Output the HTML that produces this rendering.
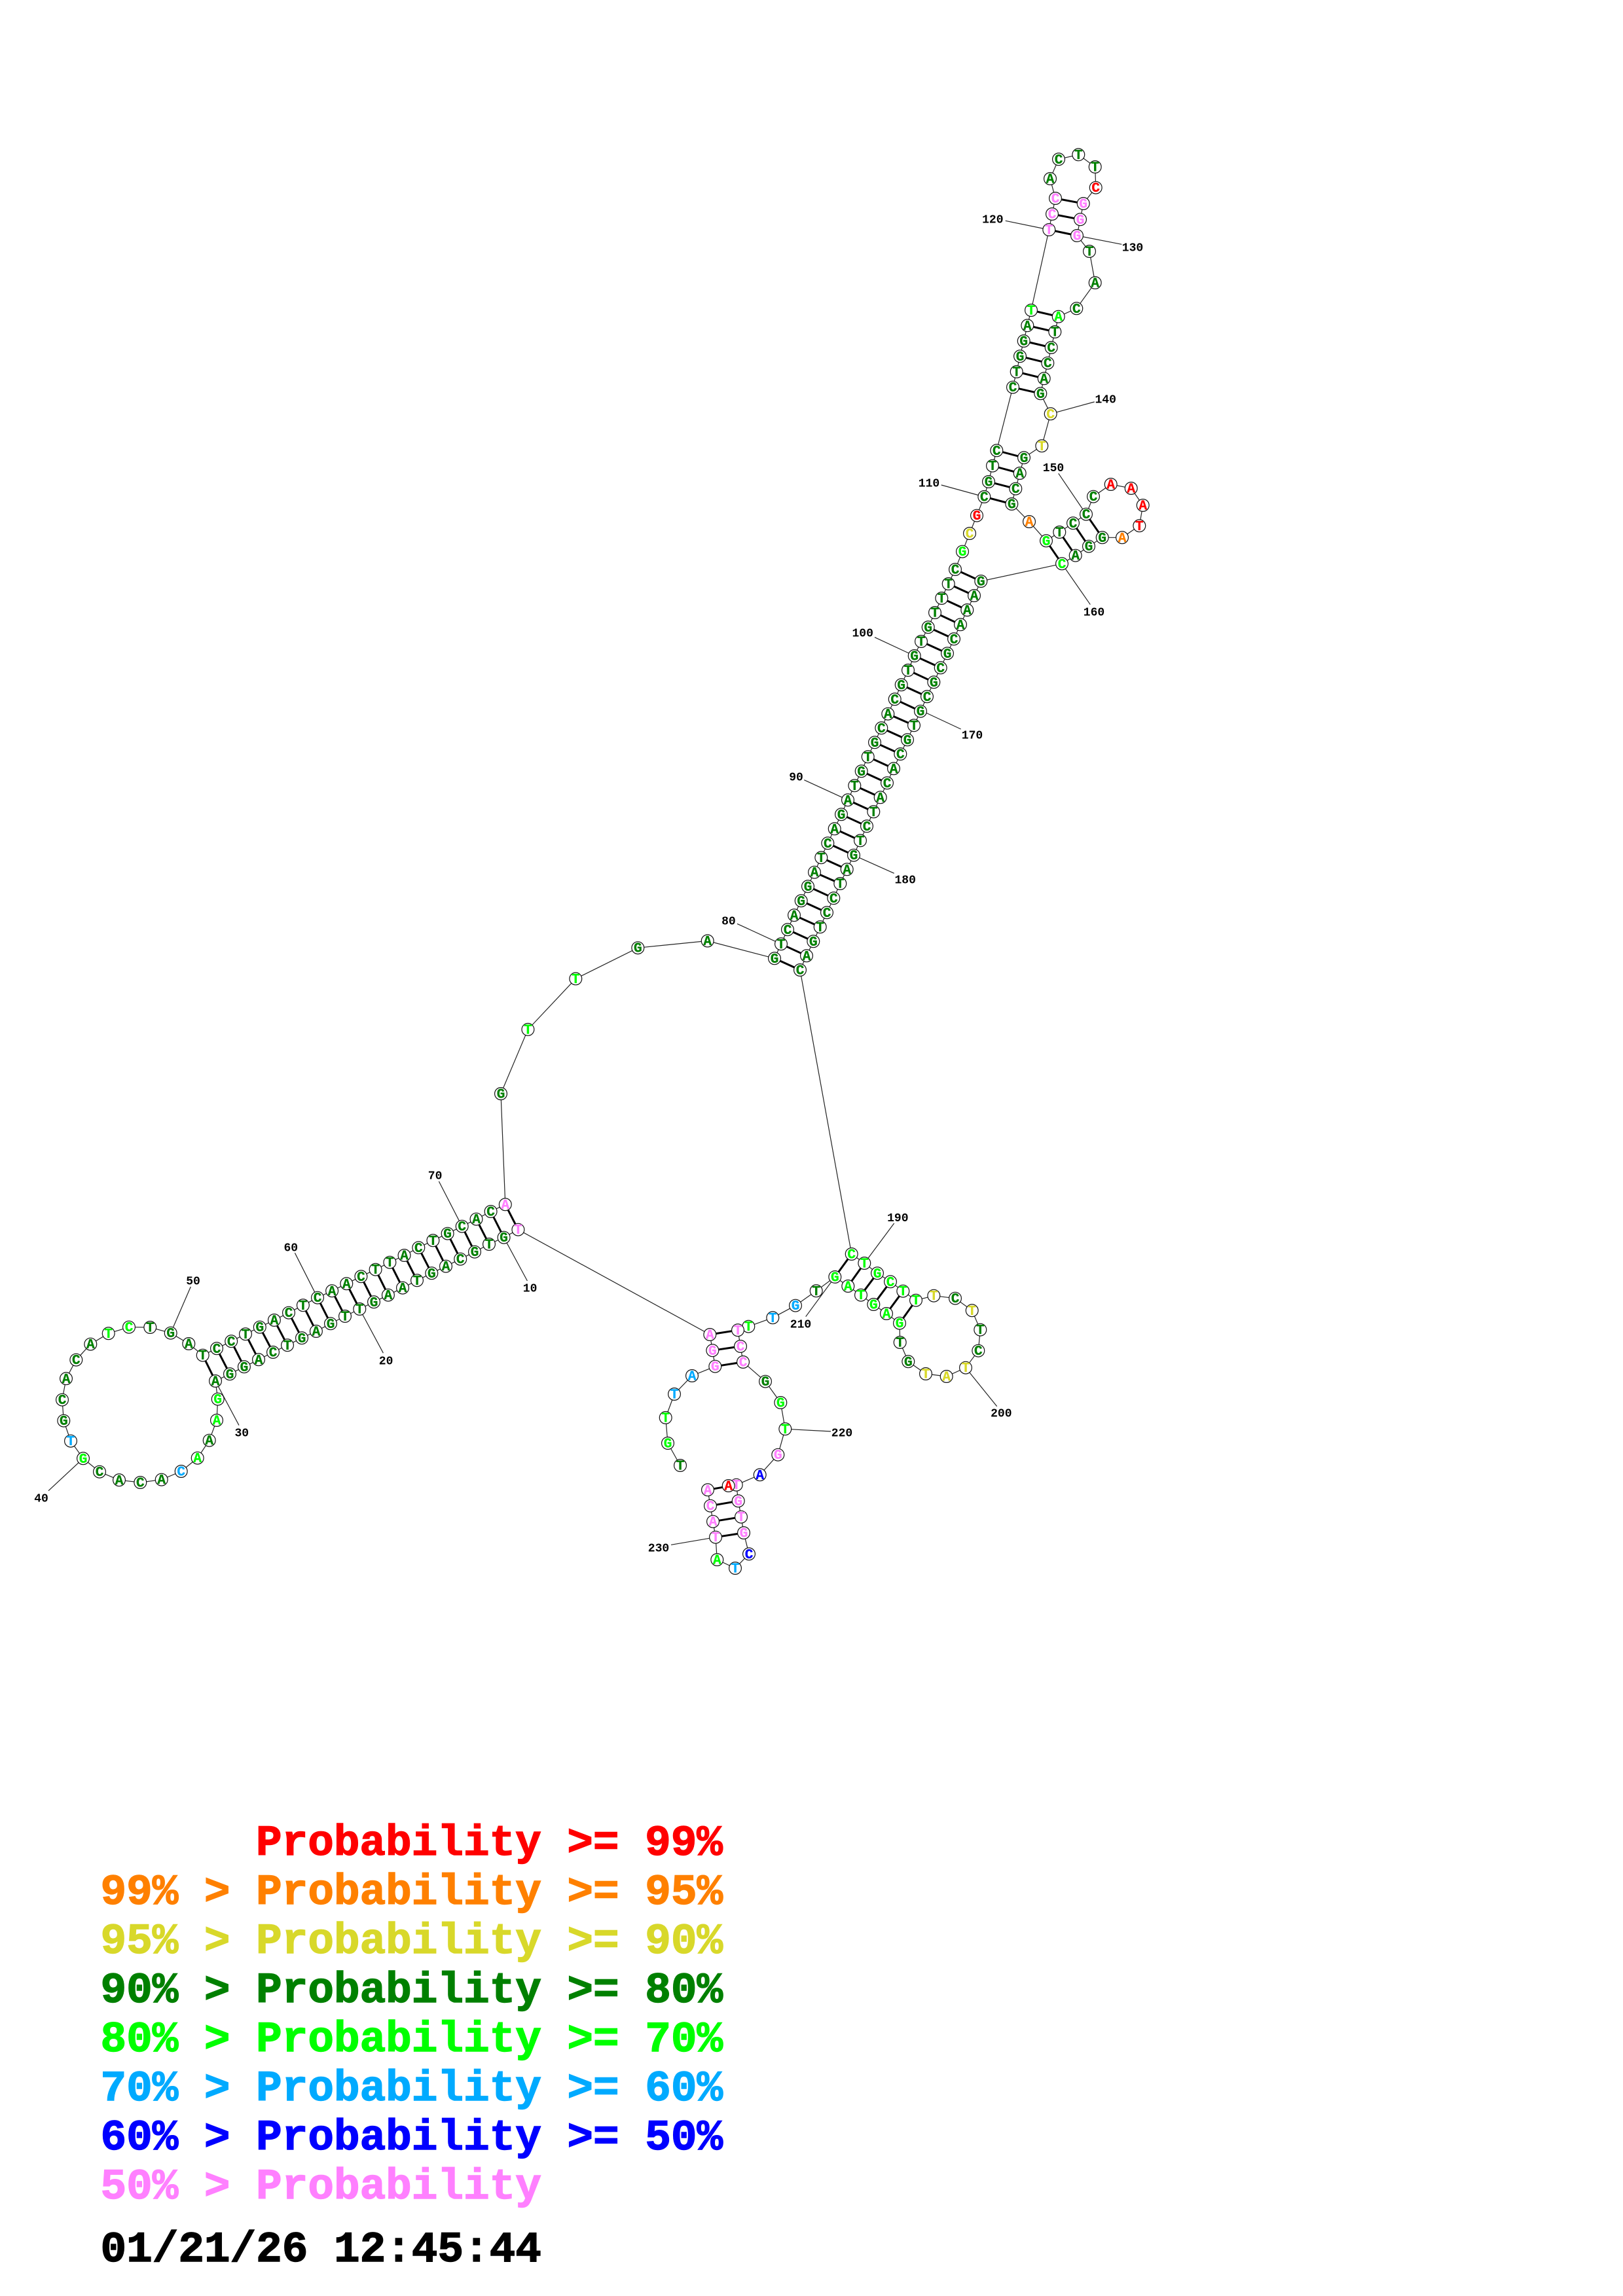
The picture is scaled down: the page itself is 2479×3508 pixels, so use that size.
<!DOCTYPE html>
<html><head><meta charset="utf-8"><title>RNA structure</title>
<style>
html,body{margin:0;padding:0;background:#fff}
svg{display:block}
circle{fill:#fff;stroke:#111;stroke-width:1.2}
text{font-family:"Liberation Mono",monospace;font-weight:bold}
.g text{font-size:21px;text-anchor:middle;stroke-width:.35px;transform:translateY(.5px)}
.d{fill:#008000;stroke:#008000}.l{fill:#00ff00;stroke:#00ff00}.s{fill:#00aaff;stroke:#00aaff}.y{fill:#d8d82a;stroke:#d8d82a}.r{fill:#ff0000;stroke:#ff0000}.o{fill:#ff8000;stroke:#ff8000}.b{fill:#0000ff;stroke:#0000ff}.p{fill:#ff80ff;stroke:#ff80ff}
text.n{font-size:18px;text-anchor:middle;fill:#000}
.L text{font-size:66px;stroke-width:1.4px}
</style></head><body>
<svg xmlns="http://www.w3.org/2000/svg" width="2479" height="3508" viewBox="0 0 2479 3508">
<rect width="2479" height="3508" fill="#fff"/>
<path fill="none" stroke="#222" stroke-width="1.2" d="M1535.7 337.3L1602.3 351M1645 360L1713.3 373.3M1604.7 632.3L1671.7 614M1437.7 741L1503.3 759M1616.7 723.3L1659 785.7M1622 861.3L1665.3 923.7M1405.7 1085L1467.7 1114M1304 1306.7L1365.7 1334.3M1228.3 1191.7L1295 1222.3M1126 1411.4L1193 1442.3M1336 973.7L1396.7 1002M670.4 1805L705.7 1873.7M450.4 1914.3L485 1982.7M549.3 2000L585.4 2067.3M769.6 1890.7L805.4 1957M260.7 2036.7L291.3 1966M329 2110L365 2177.7M127 2228.3L74 2277.7M1320.3 1930L1365.7 1869M1475 2089.7L1522.7 2148.7M1275.3 1951L1230.7 2011.7M1199.3 2183.3L1269 2187M1093 2348.7L1025 2360.3"/>
<polyline fill="none" stroke="#222" stroke-width="1.2" points="1039,2239 1020,2205 1016.7,2166 1030,2130 1057,2102 1092.3,2087.7 1088.3,2063.3 1084.3,2039 791.4,1878.7 769.6,1890.7 747,1901 725,1912.7 703.2,1923.7 681,1934.7 659.3,1945.3 637,1956.3 615,1967.7 592.9,1978.7 571,1989.3 549.3,2000 527,2011 505,2022.3 482.9,2034 461,2044.3 439,2055.3 417,2066 395,2077.3 372.9,2088.3 351,2099.3 329,2110 332.7,2137.7 331,2170 319.7,2200.7 301.7,2227.7 276.7,2248 246.7,2260.7 214.3,2265 182,2261.3 152,2248.7 127,2228.3 108,2201.7 97.3,2170.7 95,2138.7 101,2106.3 116.3,2077.7 138.3,2053.7 165.7,2037.3 197,2027.7 229.3,2028 260.7,2036.7 288.3,2053 309.7,2070.7 331,2060.3 353.2,2049.3 375,2038.3 396.8,2027.7 418.9,2017 441,2005.7 462.9,1994.3 485,1982.7 507.1,1972.3 529.3,1961.3 551.4,1950.3 573.6,1939.7 595.4,1928.7 617.5,1918 639.3,1906.3 661.4,1895.3 683.6,1884.7 705.7,1873.7 727.5,1862.7 749.6,1851 771.8,1840.3 765,1671 806.4,1572.9 879.3,1495.4 974.3,1448.2 1080.7,1437.5 1183,1464.3 1193,1442.3 1203,1420.3 1213,1398.3 1223.7,1376.3 1234,1354.3 1244,1332.7 1254.3,1310.3 1264.3,1288.3 1274.7,1266.3 1285,1244.3 1295,1222.3 1305.3,1200.3 1315.7,1178.3 1325.7,1156.3 1336,1134.3 1346.3,1112.3 1356.3,1090.7 1366.7,1068.3 1376.7,1046.3 1387,1024 1396.7,1002 1407,980 1417.7,958.3 1428,936 1438.3,914 1448.7,892 1459,870 1470,842.7 1481,815 1492,787.7 1503.3,759 1510,736 1516,711.7 1522.3,688.3 1547,591.7 1552.7,568 1558,544.3 1563.7,521 1569.3,497.3 1575,474 1602.3,351 1607,327 1612,303 1604,273 1617,243.3 1647.3,236.3 1672.7,255 1673.7,286.7 1654.7,311 1650,335.3 1645,360 1664,384 1672.7,432 1644.3,471.3 1616.7,483.7 1611.3,507 1605.7,531 1600.3,554.7 1594.7,578.3 1589.3,601.3 1604.7,632.3 1591.3,681.3 1564,699.3 1557.7,723 1551.3,746.7 1545.3,770 1572,797 1598,826.3 1618.3,813 1639,799.3 1659,785.7 1670,758.7 1696.7,740 1727.7,746 1745.7,772 1740.3,803.3 1714,821.3 1683.7,821.3 1663,834.7 1642.7,848.7 1622,861.3 1498.3,888 1488,910 1477.3,932 1467,954.3 1457,976.3 1447,998.3 1436.7,1020.3 1426.3,1042.3 1416,1064.3 1406,1086.7 1396,1108.3 1386,1130.3 1375.3,1152 1365,1174.3 1355,1196.3 1344.7,1218.3 1334.3,1240.3 1324,1262.3 1314,1284.3 1304,1306.7 1293.7,1328.3 1283.3,1350 1273.3,1372.3 1263,1394.3 1252.7,1416.3 1242.3,1438.3 1232,1460.3 1222,1482 1300.7,1916 1320.3,1930 1340,1945.3 1360,1958.3 1379.3,1972.7 1399,1986.7 1426.3,1979.7 1459,1983.7 1484.7,2002.3 1497.3,2031.7 1494.3,2063.7 1475,2089.7 1445.7,2103 1414,2099 1387.3,2080.3 1374.7,2051 1374,2021.7 1354,2007 1334.3,1993 1315,1978.7 1295.3,1965 1275.3,1951 1246.7,1972.3 1215,1994.7 1180.3,2013.3 1143.3,2026.7 1127,2032.3 1131,2057 1135,2081 1169,2110.7 1192.3,2143 1199.3,2183.3 1188.3,2222.7 1160.7,2253.3 1124.7,2268.7 1127.7,2293.3 1132,2317.7 1136,2342 1144,2374.3 1123,2396 1095.3,2383 1093,2348.7 1089,2324.7 1085,2300.7 1081,2276.3 1112.7,2270"/>
<path fill="none" stroke="#000" stroke-width="3" d="M1084.3 2039L1127 2032.3M1088.3 2063.3L1131 2057M1092.3 2087.7L1135 2081M791.4 1878.7L771.8 1840.3M769.6 1890.7L749.6 1851M747 1901L727.5 1862.7M725 1912.7L705.7 1873.7M703.2 1923.7L683.6 1884.7M681 1934.7L661.4 1895.3M659.3 1945.3L639.3 1906.3M637 1956.3L617.5 1918M615 1967.7L595.4 1928.7M592.9 1978.7L573.6 1939.7M571 1989.3L551.4 1950.3M549.3 2000L529.3 1961.3M527 2011L507.1 1972.3M505 2022.3L485 1982.7M482.9 2034L462.9 1994.3M461 2044.3L441 2005.7M439 2055.3L418.9 2017M417 2066L396.8 2027.7M395 2077.3L375 2038.3M372.9 2088.3L353.2 2049.3M351 2099.3L331 2060.3M329 2110L309.7 2070.7M1183 1464.3L1222 1482M1193 1442.3L1232 1460.3M1203 1420.3L1242.3 1438.3M1213 1398.3L1252.7 1416.3M1223.7 1376.3L1263 1394.3M1234 1354.3L1273.3 1372.3M1244 1332.7L1283.3 1350M1254.3 1310.3L1293.7 1328.3M1264.3 1288.3L1304 1306.7M1274.7 1266.3L1314 1284.3M1285 1244.3L1324 1262.3M1295 1222.3L1334.3 1240.3M1305.3 1200.3L1344.7 1218.3M1315.7 1178.3L1355 1196.3M1325.7 1156.3L1365 1174.3M1336 1134.3L1375.3 1152M1346.3 1112.3L1386 1130.3M1356.3 1090.7L1396 1108.3M1366.7 1068.3L1406 1086.7M1376.7 1046.3L1416 1064.3M1387 1024L1426.3 1042.3M1396.7 1002L1436.7 1020.3M1407 980L1447 998.3M1417.7 958.3L1457 976.3M1428 936L1467 954.3M1438.3 914L1477.3 932M1448.7 892L1488 910M1459 870L1498.3 888M1503.3 759L1545.3 770M1510 736L1551.3 746.7M1516 711.7L1557.7 723M1522.3 688.3L1564 699.3M1547 591.7L1589.3 601.3M1552.7 568L1594.7 578.3M1558 544.3L1600.3 554.7M1563.7 521L1605.7 531M1569.3 497.3L1611.3 507M1575 474L1616.7 483.7M1602.3 351L1645 360M1607 327L1650 335.3M1612 303L1654.7 311M1598 826.3L1622 861.3M1618.3 813L1642.7 848.7M1639 799.3L1663 834.7M1659 785.7L1683.7 821.3M1300.7 1916L1275.3 1951M1320.3 1930L1295.3 1965M1340 1945.3L1315 1978.7M1360 1958.3L1334.3 1993M1379.3 1972.7L1354 2007M1399 1986.7L1374 2021.7M1124.7 2268.7L1081 2276.3M1127.7 2293.3L1085 2300.7M1132 2317.7L1089 2324.7M1136 2342L1093 2348.7"/>
<g class="g">
<circle cx="1039" cy="2239" r="9.4"/><text x="1039" y="2245" class="d">T</text>
<circle cx="1020" cy="2205" r="9.4"/><text x="1020" y="2211" class="l">G</text>
<circle cx="1016.7" cy="2166" r="9.4"/><text x="1016.7" y="2172" class="l">T</text>
<circle cx="1030" cy="2130" r="9.4"/><text x="1030" y="2136" class="s">T</text>
<circle cx="1057" cy="2102" r="9.4"/><text x="1057" y="2108" class="s">A</text>
<circle cx="1092.3" cy="2087.7" r="9.4"/><text x="1092.3" y="2093.7" class="p">G</text>
<circle cx="1088.3" cy="2063.3" r="9.4"/><text x="1088.3" y="2069.3" class="p">G</text>
<circle cx="1084.3" cy="2039" r="9.4"/><text x="1084.3" y="2045" class="p">A</text>
<circle cx="791.4" cy="1878.7" r="9.4"/><text x="791.4" y="1884.7" class="p">T</text>
<circle cx="769.6" cy="1890.7" r="9.4"/><text x="769.6" y="1896.7" class="d">G</text>
<circle cx="747" cy="1901" r="9.4"/><text x="747" y="1907" class="d">T</text>
<circle cx="725" cy="1912.7" r="9.4"/><text x="725" y="1918.7" class="d">G</text>
<circle cx="703.2" cy="1923.7" r="9.4"/><text x="703.2" y="1929.7" class="d">C</text>
<circle cx="681" cy="1934.7" r="9.4"/><text x="681" y="1940.7" class="d">A</text>
<circle cx="659.3" cy="1945.3" r="9.4"/><text x="659.3" y="1951.3" class="d">G</text>
<circle cx="637" cy="1956.3" r="9.4"/><text x="637" y="1962.3" class="d">T</text>
<circle cx="615" cy="1967.7" r="9.4"/><text x="615" y="1973.7" class="d">A</text>
<circle cx="592.9" cy="1978.7" r="9.4"/><text x="592.9" y="1984.7" class="d">A</text>
<circle cx="571" cy="1989.3" r="9.4"/><text x="571" y="1995.3" class="d">G</text>
<circle cx="549.3" cy="2000" r="9.4"/><text x="549.3" y="2006" class="d">T</text>
<circle cx="527" cy="2011" r="9.4"/><text x="527" y="2017" class="d">T</text>
<circle cx="505" cy="2022.3" r="9.4"/><text x="505" y="2028.3" class="d">G</text>
<circle cx="482.9" cy="2034" r="9.4"/><text x="482.9" y="2040" class="d">A</text>
<circle cx="461" cy="2044.3" r="9.4"/><text x="461" y="2050.3" class="d">G</text>
<circle cx="439" cy="2055.3" r="9.4"/><text x="439" y="2061.3" class="d">T</text>
<circle cx="417" cy="2066" r="9.4"/><text x="417" y="2072" class="d">C</text>
<circle cx="395" cy="2077.3" r="9.4"/><text x="395" y="2083.3" class="d">A</text>
<circle cx="372.9" cy="2088.3" r="9.4"/><text x="372.9" y="2094.3" class="d">G</text>
<circle cx="351" cy="2099.3" r="9.4"/><text x="351" y="2105.3" class="d">G</text>
<circle cx="329" cy="2110" r="9.4"/><text x="329" y="2116" class="d">A</text>
<circle cx="332.7" cy="2137.7" r="9.4"/><text x="332.7" y="2143.7" class="l">G</text>
<circle cx="331" cy="2170" r="9.4"/><text x="331" y="2176" class="l">A</text>
<circle cx="319.7" cy="2200.7" r="9.4"/><text x="319.7" y="2206.7" class="d">A</text>
<circle cx="301.7" cy="2227.7" r="9.4"/><text x="301.7" y="2233.7" class="l">A</text>
<circle cx="276.7" cy="2248" r="9.4"/><text x="276.7" y="2254" class="s">C</text>
<circle cx="246.7" cy="2260.7" r="9.4"/><text x="246.7" y="2266.7" class="d">A</text>
<circle cx="214.3" cy="2265" r="9.4"/><text x="214.3" y="2271" class="d">C</text>
<circle cx="182" cy="2261.3" r="9.4"/><text x="182" y="2267.3" class="d">A</text>
<circle cx="152" cy="2248.7" r="9.4"/><text x="152" y="2254.7" class="d">C</text>
<circle cx="127" cy="2228.3" r="9.4"/><text x="127" y="2234.3" class="l">G</text>
<circle cx="108" cy="2201.7" r="9.4"/><text x="108" y="2207.7" class="s">T</text>
<circle cx="97.3" cy="2170.7" r="9.4"/><text x="97.3" y="2176.7" class="d">G</text>
<circle cx="95" cy="2138.7" r="9.4"/><text x="95" y="2144.7" class="d">C</text>
<circle cx="101" cy="2106.3" r="9.4"/><text x="101" y="2112.3" class="d">A</text>
<circle cx="116.3" cy="2077.7" r="9.4"/><text x="116.3" y="2083.7" class="d">C</text>
<circle cx="138.3" cy="2053.7" r="9.4"/><text x="138.3" y="2059.7" class="d">A</text>
<circle cx="165.7" cy="2037.3" r="9.4"/><text x="165.7" y="2043.3" class="l">T</text>
<circle cx="197" cy="2027.7" r="9.4"/><text x="197" y="2033.7" class="l">C</text>
<circle cx="229.3" cy="2028" r="9.4"/><text x="229.3" y="2034" class="d">T</text>
<circle cx="260.7" cy="2036.7" r="9.4"/><text x="260.7" y="2042.7" class="d">G</text>
<circle cx="288.3" cy="2053" r="9.4"/><text x="288.3" y="2059" class="d">A</text>
<circle cx="309.7" cy="2070.7" r="9.4"/><text x="309.7" y="2076.7" class="d">T</text>
<circle cx="331" cy="2060.3" r="9.4"/><text x="331" y="2066.3" class="d">C</text>
<circle cx="353.2" cy="2049.3" r="9.4"/><text x="353.2" y="2055.3" class="d">C</text>
<circle cx="375" cy="2038.3" r="9.4"/><text x="375" y="2044.3" class="d">T</text>
<circle cx="396.8" cy="2027.7" r="9.4"/><text x="396.8" y="2033.7" class="d">G</text>
<circle cx="418.9" cy="2017" r="9.4"/><text x="418.9" y="2023" class="d">A</text>
<circle cx="441" cy="2005.7" r="9.4"/><text x="441" y="2011.7" class="d">C</text>
<circle cx="462.9" cy="1994.3" r="9.4"/><text x="462.9" y="2000.3" class="d">T</text>
<circle cx="485" cy="1982.7" r="9.4"/><text x="485" y="1988.7" class="d">C</text>
<circle cx="507.1" cy="1972.3" r="9.4"/><text x="507.1" y="1978.3" class="d">A</text>
<circle cx="529.3" cy="1961.3" r="9.4"/><text x="529.3" y="1967.3" class="d">A</text>
<circle cx="551.4" cy="1950.3" r="9.4"/><text x="551.4" y="1956.3" class="d">C</text>
<circle cx="573.6" cy="1939.7" r="9.4"/><text x="573.6" y="1945.7" class="d">T</text>
<circle cx="595.4" cy="1928.7" r="9.4"/><text x="595.4" y="1934.7" class="d">T</text>
<circle cx="617.5" cy="1918" r="9.4"/><text x="617.5" y="1924" class="d">A</text>
<circle cx="639.3" cy="1906.3" r="9.4"/><text x="639.3" y="1912.3" class="d">C</text>
<circle cx="661.4" cy="1895.3" r="9.4"/><text x="661.4" y="1901.3" class="d">T</text>
<circle cx="683.6" cy="1884.7" r="9.4"/><text x="683.6" y="1890.7" class="d">G</text>
<circle cx="705.7" cy="1873.7" r="9.4"/><text x="705.7" y="1879.7" class="d">C</text>
<circle cx="727.5" cy="1862.7" r="9.4"/><text x="727.5" y="1868.7" class="d">A</text>
<circle cx="749.6" cy="1851" r="9.4"/><text x="749.6" y="1857" class="d">C</text>
<circle cx="771.8" cy="1840.3" r="9.4"/><text x="771.8" y="1846.3" class="p">A</text>
<circle cx="765" cy="1671" r="9.4"/><text x="765" y="1677" class="d">G</text>
<circle cx="806.4" cy="1572.9" r="9.4"/><text x="806.4" y="1578.9" class="l">T</text>
<circle cx="879.3" cy="1495.4" r="9.4"/><text x="879.3" y="1501.4" class="l">T</text>
<circle cx="974.3" cy="1448.2" r="9.4"/><text x="974.3" y="1454.2" class="d">G</text>
<circle cx="1080.7" cy="1437.5" r="9.4"/><text x="1080.7" y="1443.5" class="d">A</text>
<circle cx="1183" cy="1464.3" r="9.4"/><text x="1183" y="1470.3" class="d">G</text>
<circle cx="1193" cy="1442.3" r="9.4"/><text x="1193" y="1448.3" class="d">T</text>
<circle cx="1203" cy="1420.3" r="9.4"/><text x="1203" y="1426.3" class="d">C</text>
<circle cx="1213" cy="1398.3" r="9.4"/><text x="1213" y="1404.3" class="d">A</text>
<circle cx="1223.7" cy="1376.3" r="9.4"/><text x="1223.7" y="1382.3" class="d">G</text>
<circle cx="1234" cy="1354.3" r="9.4"/><text x="1234" y="1360.3" class="d">G</text>
<circle cx="1244" cy="1332.7" r="9.4"/><text x="1244" y="1338.7" class="d">A</text>
<circle cx="1254.3" cy="1310.3" r="9.4"/><text x="1254.3" y="1316.3" class="d">T</text>
<circle cx="1264.3" cy="1288.3" r="9.4"/><text x="1264.3" y="1294.3" class="d">C</text>
<circle cx="1274.7" cy="1266.3" r="9.4"/><text x="1274.7" y="1272.3" class="d">A</text>
<circle cx="1285" cy="1244.3" r="9.4"/><text x="1285" y="1250.3" class="d">G</text>
<circle cx="1295" cy="1222.3" r="9.4"/><text x="1295" y="1228.3" class="d">A</text>
<circle cx="1305.3" cy="1200.3" r="9.4"/><text x="1305.3" y="1206.3" class="d">T</text>
<circle cx="1315.7" cy="1178.3" r="9.4"/><text x="1315.7" y="1184.3" class="d">G</text>
<circle cx="1325.7" cy="1156.3" r="9.4"/><text x="1325.7" y="1162.3" class="d">T</text>
<circle cx="1336" cy="1134.3" r="9.4"/><text x="1336" y="1140.3" class="d">G</text>
<circle cx="1346.3" cy="1112.3" r="9.4"/><text x="1346.3" y="1118.3" class="d">C</text>
<circle cx="1356.3" cy="1090.7" r="9.4"/><text x="1356.3" y="1096.7" class="d">A</text>
<circle cx="1366.7" cy="1068.3" r="9.4"/><text x="1366.7" y="1074.3" class="d">C</text>
<circle cx="1376.7" cy="1046.3" r="9.4"/><text x="1376.7" y="1052.3" class="d">G</text>
<circle cx="1387" cy="1024" r="9.4"/><text x="1387" y="1030" class="d">T</text>
<circle cx="1396.7" cy="1002" r="9.4"/><text x="1396.7" y="1008" class="d">G</text>
<circle cx="1407" cy="980" r="9.4"/><text x="1407" y="986" class="d">T</text>
<circle cx="1417.7" cy="958.3" r="9.4"/><text x="1417.7" y="964.3" class="d">G</text>
<circle cx="1428" cy="936" r="9.4"/><text x="1428" y="942" class="d">T</text>
<circle cx="1438.3" cy="914" r="9.4"/><text x="1438.3" y="920" class="d">T</text>
<circle cx="1448.7" cy="892" r="9.4"/><text x="1448.7" y="898" class="d">T</text>
<circle cx="1459" cy="870" r="9.4"/><text x="1459" y="876" class="d">C</text>
<circle cx="1470" cy="842.7" r="9.4"/><text x="1470" y="848.7" class="l">G</text>
<circle cx="1481" cy="815" r="9.4"/><text x="1481" y="821" class="y">C</text>
<circle cx="1492" cy="787.7" r="9.4"/><text x="1492" y="793.7" class="r">G</text>
<circle cx="1503.3" cy="759" r="9.4"/><text x="1503.3" y="765" class="d">C</text>
<circle cx="1510" cy="736" r="9.4"/><text x="1510" y="742" class="d">G</text>
<circle cx="1516" cy="711.7" r="9.4"/><text x="1516" y="717.7" class="d">T</text>
<circle cx="1522.3" cy="688.3" r="9.4"/><text x="1522.3" y="694.3" class="d">C</text>
<circle cx="1547" cy="591.7" r="9.4"/><text x="1547" y="597.7" class="d">C</text>
<circle cx="1552.7" cy="568" r="9.4"/><text x="1552.7" y="574" class="d">T</text>
<circle cx="1558" cy="544.3" r="9.4"/><text x="1558" y="550.3" class="d">G</text>
<circle cx="1563.7" cy="521" r="9.4"/><text x="1563.7" y="527" class="d">G</text>
<circle cx="1569.3" cy="497.3" r="9.4"/><text x="1569.3" y="503.3" class="d">A</text>
<circle cx="1575" cy="474" r="9.4"/><text x="1575" y="480" class="l">T</text>
<circle cx="1602.3" cy="351" r="9.4"/><text x="1602.3" y="357" class="p">T</text>
<circle cx="1607" cy="327" r="9.4"/><text x="1607" y="333" class="p">C</text>
<circle cx="1612" cy="303" r="9.4"/><text x="1612" y="309" class="p">C</text>
<circle cx="1604" cy="273" r="9.4"/><text x="1604" y="279" class="d">A</text>
<circle cx="1617" cy="243.3" r="9.4"/><text x="1617" y="249.3" class="d">C</text>
<circle cx="1647.3" cy="236.3" r="9.4"/><text x="1647.3" y="242.3" class="d">T</text>
<circle cx="1672.7" cy="255" r="9.4"/><text x="1672.7" y="261" class="d">T</text>
<circle cx="1673.7" cy="286.7" r="9.4"/><text x="1673.7" y="292.7" class="r">C</text>
<circle cx="1654.7" cy="311" r="9.4"/><text x="1654.7" y="317" class="p">G</text>
<circle cx="1650" cy="335.3" r="9.4"/><text x="1650" y="341.3" class="p">G</text>
<circle cx="1645" cy="360" r="9.4"/><text x="1645" y="366" class="p">G</text>
<circle cx="1664" cy="384" r="9.4"/><text x="1664" y="390" class="d">T</text>
<circle cx="1672.7" cy="432" r="9.4"/><text x="1672.7" y="438" class="d">A</text>
<circle cx="1644.3" cy="471.3" r="9.4"/><text x="1644.3" y="477.3" class="d">C</text>
<circle cx="1616.7" cy="483.7" r="9.4"/><text x="1616.7" y="489.7" class="l">A</text>
<circle cx="1611.3" cy="507" r="9.4"/><text x="1611.3" y="513" class="d">T</text>
<circle cx="1605.7" cy="531" r="9.4"/><text x="1605.7" y="537" class="d">C</text>
<circle cx="1600.3" cy="554.7" r="9.4"/><text x="1600.3" y="560.7" class="d">C</text>
<circle cx="1594.7" cy="578.3" r="9.4"/><text x="1594.7" y="584.3" class="d">A</text>
<circle cx="1589.3" cy="601.3" r="9.4"/><text x="1589.3" y="607.3" class="d">G</text>
<circle cx="1604.7" cy="632.3" r="9.4"/><text x="1604.7" y="638.3" class="y">C</text>
<circle cx="1591.3" cy="681.3" r="9.4"/><text x="1591.3" y="687.3" class="y">T</text>
<circle cx="1564" cy="699.3" r="9.4"/><text x="1564" y="705.3" class="d">G</text>
<circle cx="1557.7" cy="723" r="9.4"/><text x="1557.7" y="729" class="d">A</text>
<circle cx="1551.3" cy="746.7" r="9.4"/><text x="1551.3" y="752.7" class="d">C</text>
<circle cx="1545.3" cy="770" r="9.4"/><text x="1545.3" y="776" class="d">G</text>
<circle cx="1572" cy="797" r="9.4"/><text x="1572" y="803" class="o">A</text>
<circle cx="1598" cy="826.3" r="9.4"/><text x="1598" y="832.3" class="l">G</text>
<circle cx="1618.3" cy="813" r="9.4"/><text x="1618.3" y="819" class="d">T</text>
<circle cx="1639" cy="799.3" r="9.4"/><text x="1639" y="805.3" class="d">C</text>
<circle cx="1659" cy="785.7" r="9.4"/><text x="1659" y="791.7" class="d">C</text>
<circle cx="1670" cy="758.7" r="9.4"/><text x="1670" y="764.7" class="d">C</text>
<circle cx="1696.7" cy="740" r="9.4"/><text x="1696.7" y="746" class="r">A</text>
<circle cx="1727.7" cy="746" r="9.4"/><text x="1727.7" y="752" class="r">A</text>
<circle cx="1745.7" cy="772" r="9.4"/><text x="1745.7" y="778" class="r">A</text>
<circle cx="1740.3" cy="803.3" r="9.4"/><text x="1740.3" y="809.3" class="r">T</text>
<circle cx="1714" cy="821.3" r="9.4"/><text x="1714" y="827.3" class="o">A</text>
<circle cx="1683.7" cy="821.3" r="9.4"/><text x="1683.7" y="827.3" class="d">G</text>
<circle cx="1663" cy="834.7" r="9.4"/><text x="1663" y="840.7" class="d">G</text>
<circle cx="1642.7" cy="848.7" r="9.4"/><text x="1642.7" y="854.7" class="d">A</text>
<circle cx="1622" cy="861.3" r="9.4"/><text x="1622" y="867.3" class="l">C</text>
<circle cx="1498.3" cy="888" r="9.4"/><text x="1498.3" y="894" class="d">G</text>
<circle cx="1488" cy="910" r="9.4"/><text x="1488" y="916" class="d">A</text>
<circle cx="1477.3" cy="932" r="9.4"/><text x="1477.3" y="938" class="d">A</text>
<circle cx="1467" cy="954.3" r="9.4"/><text x="1467" y="960.3" class="d">A</text>
<circle cx="1457" cy="976.3" r="9.4"/><text x="1457" y="982.3" class="d">C</text>
<circle cx="1447" cy="998.3" r="9.4"/><text x="1447" y="1004.3" class="d">G</text>
<circle cx="1436.7" cy="1020.3" r="9.4"/><text x="1436.7" y="1026.3" class="d">C</text>
<circle cx="1426.3" cy="1042.3" r="9.4"/><text x="1426.3" y="1048.3" class="d">G</text>
<circle cx="1416" cy="1064.3" r="9.4"/><text x="1416" y="1070.3" class="d">C</text>
<circle cx="1406" cy="1086.7" r="9.4"/><text x="1406" y="1092.7" class="d">G</text>
<circle cx="1396" cy="1108.3" r="9.4"/><text x="1396" y="1114.3" class="d">T</text>
<circle cx="1386" cy="1130.3" r="9.4"/><text x="1386" y="1136.3" class="d">G</text>
<circle cx="1375.3" cy="1152" r="9.4"/><text x="1375.3" y="1158" class="d">C</text>
<circle cx="1365" cy="1174.3" r="9.4"/><text x="1365" y="1180.3" class="d">A</text>
<circle cx="1355" cy="1196.3" r="9.4"/><text x="1355" y="1202.3" class="d">C</text>
<circle cx="1344.7" cy="1218.3" r="9.4"/><text x="1344.7" y="1224.3" class="d">A</text>
<circle cx="1334.3" cy="1240.3" r="9.4"/><text x="1334.3" y="1246.3" class="d">T</text>
<circle cx="1324" cy="1262.3" r="9.4"/><text x="1324" y="1268.3" class="d">C</text>
<circle cx="1314" cy="1284.3" r="9.4"/><text x="1314" y="1290.3" class="d">T</text>
<circle cx="1304" cy="1306.7" r="9.4"/><text x="1304" y="1312.7" class="d">G</text>
<circle cx="1293.7" cy="1328.3" r="9.4"/><text x="1293.7" y="1334.3" class="d">A</text>
<circle cx="1283.3" cy="1350" r="9.4"/><text x="1283.3" y="1356" class="d">T</text>
<circle cx="1273.3" cy="1372.3" r="9.4"/><text x="1273.3" y="1378.3" class="d">C</text>
<circle cx="1263" cy="1394.3" r="9.4"/><text x="1263" y="1400.3" class="d">C</text>
<circle cx="1252.7" cy="1416.3" r="9.4"/><text x="1252.7" y="1422.3" class="d">T</text>
<circle cx="1242.3" cy="1438.3" r="9.4"/><text x="1242.3" y="1444.3" class="d">G</text>
<circle cx="1232" cy="1460.3" r="9.4"/><text x="1232" y="1466.3" class="d">A</text>
<circle cx="1222" cy="1482" r="9.4"/><text x="1222" y="1488" class="d">C</text>
<circle cx="1300.7" cy="1916" r="9.4"/><text x="1300.7" y="1922" class="l">C</text>
<circle cx="1320.3" cy="1930" r="9.4"/><text x="1320.3" y="1936" class="l">T</text>
<circle cx="1340" cy="1945.3" r="9.4"/><text x="1340" y="1951.3" class="l">G</text>
<circle cx="1360" cy="1958.3" r="9.4"/><text x="1360" y="1964.3" class="l">C</text>
<circle cx="1379.3" cy="1972.7" r="9.4"/><text x="1379.3" y="1978.7" class="l">T</text>
<circle cx="1399" cy="1986.7" r="9.4"/><text x="1399" y="1992.7" class="l">T</text>
<circle cx="1426.3" cy="1979.7" r="9.4"/><text x="1426.3" y="1985.7" class="y">T</text>
<circle cx="1459" cy="1983.7" r="9.4"/><text x="1459" y="1989.7" class="d">C</text>
<circle cx="1484.7" cy="2002.3" r="9.4"/><text x="1484.7" y="2008.3" class="y">T</text>
<circle cx="1497.3" cy="2031.7" r="9.4"/><text x="1497.3" y="2037.7" class="d">T</text>
<circle cx="1494.3" cy="2063.7" r="9.4"/><text x="1494.3" y="2069.7" class="d">C</text>
<circle cx="1475" cy="2089.7" r="9.4"/><text x="1475" y="2095.7" class="y">T</text>
<circle cx="1445.7" cy="2103" r="9.4"/><text x="1445.7" y="2109" class="y">A</text>
<circle cx="1414" cy="2099" r="9.4"/><text x="1414" y="2105" class="y">T</text>
<circle cx="1387.3" cy="2080.3" r="9.4"/><text x="1387.3" y="2086.3" class="d">G</text>
<circle cx="1374.7" cy="2051" r="9.4"/><text x="1374.7" y="2057" class="d">T</text>
<circle cx="1374" cy="2021.7" r="9.4"/><text x="1374" y="2027.7" class="l">G</text>
<circle cx="1354" cy="2007" r="9.4"/><text x="1354" y="2013" class="l">A</text>
<circle cx="1334.3" cy="1993" r="9.4"/><text x="1334.3" y="1999" class="l">G</text>
<circle cx="1315" cy="1978.7" r="9.4"/><text x="1315" y="1984.7" class="l">T</text>
<circle cx="1295.3" cy="1965" r="9.4"/><text x="1295.3" y="1971" class="l">A</text>
<circle cx="1275.3" cy="1951" r="9.4"/><text x="1275.3" y="1957" class="l">G</text>
<circle cx="1246.7" cy="1972.3" r="9.4"/><text x="1246.7" y="1978.3" class="d">T</text>
<circle cx="1215" cy="1994.7" r="9.4"/><text x="1215" y="2000.7" class="s">G</text>
<circle cx="1180.3" cy="2013.3" r="9.4"/><text x="1180.3" y="2019.3" class="s">T</text>
<circle cx="1143.3" cy="2026.7" r="9.4"/><text x="1143.3" y="2032.7" class="l">T</text>
<circle cx="1127" cy="2032.3" r="9.4"/><text x="1127" y="2038.3" class="p">T</text>
<circle cx="1131" cy="2057" r="9.4"/><text x="1131" y="2063" class="p">C</text>
<circle cx="1135" cy="2081" r="9.4"/><text x="1135" y="2087" class="p">C</text>
<circle cx="1169" cy="2110.7" r="9.4"/><text x="1169" y="2116.7" class="d">G</text>
<circle cx="1192.3" cy="2143" r="9.4"/><text x="1192.3" y="2149" class="l">G</text>
<circle cx="1199.3" cy="2183.3" r="9.4"/><text x="1199.3" y="2189.3" class="l">T</text>
<circle cx="1188.3" cy="2222.7" r="9.4"/><text x="1188.3" y="2228.7" class="p">G</text>
<circle cx="1160.7" cy="2253.3" r="9.4"/><text x="1160.7" y="2259.3" class="b">A</text>
<circle cx="1124.7" cy="2268.7" r="9.4"/><text x="1124.7" y="2274.7" class="p">T</text>
<circle cx="1127.7" cy="2293.3" r="9.4"/><text x="1127.7" y="2299.3" class="p">G</text>
<circle cx="1132" cy="2317.7" r="9.4"/><text x="1132" y="2323.7" class="p">T</text>
<circle cx="1136" cy="2342" r="9.4"/><text x="1136" y="2348" class="p">G</text>
<circle cx="1144" cy="2374.3" r="9.4"/><text x="1144" y="2380.3" class="b">C</text>
<circle cx="1123" cy="2396" r="9.4"/><text x="1123" y="2402" class="s">T</text>
<circle cx="1095.3" cy="2383" r="9.4"/><text x="1095.3" y="2389" class="l">A</text>
<circle cx="1093" cy="2348.7" r="9.4"/><text x="1093" y="2354.7" class="p">T</text>
<circle cx="1089" cy="2324.7" r="9.4"/><text x="1089" y="2330.7" class="p">A</text>
<circle cx="1085" cy="2300.7" r="9.4"/><text x="1085" y="2306.7" class="p">C</text>
<circle cx="1081" cy="2276.3" r="9.4"/><text x="1081" y="2282.3" class="p">A</text>
<circle cx="1112.7" cy="2270" r="9.4"/><text x="1112.7" y="2276" class="r">A</text>
</g>
<text class="n" x="809.6" y="1973.3">10</text>
<text class="n" x="589.6" y="2084.3">20</text>
<text class="n" x="369.3" y="2194.3">30</text>
<text class="n" x="63" y="2294.3">40</text>
<text class="n" x="295" y="1962.7">50</text>
<text class="n" x="444.3" y="1911.3">60</text>
<text class="n" x="664.6" y="1801.3">70</text>
<text class="n" x="1112.9" y="1412.4">80</text>
<text class="n" x="1216" y="1192.3">90</text>
<text class="n" x="1317.7" y="972.7">100</text>
<text class="n" x="1419" y="743.7">110</text>
<text class="n" x="1516.3" y="340.3">120</text>
<text class="n" x="1730" y="383.3">130</text>
<text class="n" x="1688.7" y="615.3">140</text>
<text class="n" x="1609" y="720">150</text>
<text class="n" x="1671" y="940.3">160</text>
<text class="n" x="1485" y="1128.3">170</text>
<text class="n" x="1382.7" y="1349.3">180</text>
<text class="n" x="1371.3" y="1866">190</text>
<text class="n" x="1529.3" y="2164.3">200</text>
<text class="n" x="1223" y="2028.3">210</text>
<text class="n" x="1286" y="2194.3">220</text>
<text class="n" x="1006" y="2370.3">230</text>
<g class="L">
<text x="391" y="2834" class="r">Probability &gt;= 99%</text>
<text x="153.5" y="2909" class="o">99% &gt; Probability &gt;= 95%</text>
<text x="153.5" y="2984" class="y">95% &gt; Probability &gt;= 90%</text>
<text x="153.5" y="3059" class="d">90% &gt; Probability &gt;= 80%</text>
<text x="153.5" y="3134" class="l">80% &gt; Probability &gt;= 70%</text>
<text x="153.5" y="3209" class="s">70% &gt; Probability &gt;= 60%</text>
<text x="153.5" y="3284" class="b">60% &gt; Probability &gt;= 50%</text>
<text x="153.5" y="3359" class="p">50% &gt; Probability</text>
<text x="153.5" y="3455" fill="#000" stroke="#000">01/21/26 12:45:44</text>
</g>
</svg>
</body></html>
